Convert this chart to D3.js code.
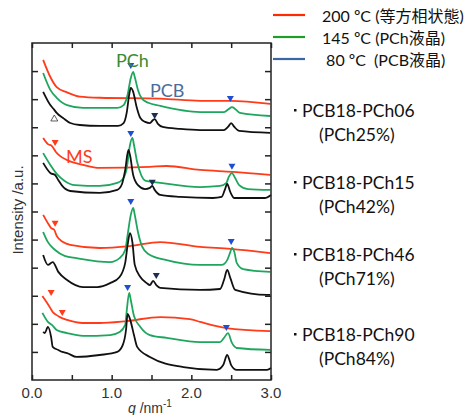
<!DOCTYPE html>
<html>
<head>
<meta charset="utf-8">
<script src="https://cdn.jsdelivr.net/npm/d3@7"></script>
<style>
  body { margin: 0; background: #fff; }
</style>
</head>
<body>
<script>
// tick values
const qTicks = [0, 0.5, 1, 1.5, 2, 2.5, 3];
const qLabels = [0, 1, 2, 3];
const intensityTicks = [10, 20, 30, 40, 50, 60, 70, 80, 90, 100, 110];

// legend entries
const legendNames = ["200 ºC (等方相状態)", "145 ºC (PCh液晶)", " 80 ºC  (PCB液晶)"];

// sample names (right side)
const sampleNames = ["PCB18-PCh06", "PCB18-PCh15", "PCB18-PCh46", "PCB18-PCh90"];
const sampleRatios = ["(PCh25%)", "(PCh42%)", "(PCh71%)", "(PCh84%)"];

// curves: [q (nm^-1), intensity (a.u., offset)]
const pch06_200 = [[0.14,114.0],[0.23,107.9],[0.31,104.3],[0.44,102.4],[0.60,100.9],[0.85,100.5],[1.61,100.2],[2.11,99.4],[2.49,99.4],[2.99,98.3]];
const pch06_145 = [[0.14,109.3],[0.23,103.3],[0.31,100.5],[0.44,97.9],[0.64,96.9],[1.07,96.9],[1.15,97.9],[1.20,101.6],[1.24,107.5],[1.27,109.7],[1.29,107.9],[1.33,103.3],[1.38,100.2],[1.46,98.7],[1.61,97.6],[2.11,95.4],[2.41,95.4],[2.47,96.5],[2.51,97.2],[2.55,96.5],[2.61,95.1],[2.99,94.0]];
const pch06_80 = [[0.14,102.6],[0.23,97.9],[0.28,96.2],[0.31,95.1],[0.39,93.3],[0.48,91.5],[0.60,90.8],[0.85,90.5],[1.08,90.5],[1.15,91.5],[1.19,95.4],[1.22,101.6],[1.24,104.0],[1.27,102.6],[1.31,97.6],[1.36,93.3],[1.42,91.9],[1.48,91.5],[1.52,92.6],[1.54,92.9],[1.58,91.2],[1.64,90.1],[1.86,89.4],[2.11,89.0],[2.41,89.0],[2.46,90.1],[2.50,91.5],[2.54,90.1],[2.60,88.7],[2.99,88.0]];

const pch15_200 = [[0.14,86.2],[0.20,84.0],[0.25,83.3],[0.30,81.2],[0.35,79.8],[0.44,78.3],[0.64,76.6],[0.85,75.5],[1.48,75.9],[1.69,76.2],[2.11,74.8],[2.52,74.1],[2.99,73.0]];
const pch15_145 = [[0.14,80.8],[0.23,76.6],[0.31,73.4],[0.41,70.9],[0.54,69.4],[0.85,69.1],[1.07,70.2],[1.14,71.6],[1.19,75.5],[1.23,83.7],[1.26,86.2],[1.28,83.7],[1.32,77.6],[1.37,73.0],[1.43,70.9],[1.61,70.2],[2.11,68.7],[2.36,69.1],[2.44,70.2],[2.47,72.3],[2.51,73.7],[2.55,71.9],[2.60,69.4],[2.71,68.0],[2.99,67.7]];
const pch15_80 = [[0.14,77.3],[0.23,73.7],[0.29,73.0],[0.33,71.2],[0.38,69.1],[0.48,67.3],[0.85,66.6],[1.07,67.7],[1.13,69.8],[1.17,74.8],[1.21,81.9],[1.23,80.1],[1.27,73.0],[1.33,69.4],[1.42,68.0],[1.48,68.4],[1.51,69.1],[1.54,67.7],[1.61,65.9],[1.86,65.2],[2.27,64.8],[2.38,65.2],[2.42,67.7],[2.45,69.8],[2.49,66.9],[2.54,64.8],[2.92,64.8],[3.0,65.9]];

const pch46_200 = [[0.14,58.8],[0.19,56.3],[0.24,54.1],[0.28,53.4],[0.31,51.3],[0.39,49.1],[0.48,48.1],[0.85,47.0],[1.23,47.7],[1.61,49.1],[2.11,47.4],[2.49,46.7],[2.99,45.2]];
const pch46_145 = [[0.14,52.7],[0.20,49.1],[0.29,46.3],[0.41,44.2],[0.56,43.4],[0.98,42.0],[1.10,43.4],[1.17,46.3],[1.20,51.6],[1.24,58.8],[1.27,61.3],[1.29,58.8],[1.33,52.7],[1.38,47.7],[1.46,44.9],[1.69,42.7],[2.11,41.0],[2.38,41.0],[2.45,42.7],[2.49,45.6],[2.51,47.0],[2.54,45.6],[2.57,41.7],[2.65,39.5],[2.99,38.5]];
const pch46_80 = [[0.14,44.5],[0.20,41.0],[0.26,42.0],[0.33,38.5],[0.44,35.6],[0.64,33.1],[0.82,33.1],[0.98,34.5],[1.10,36.7],[1.17,41.7],[1.20,48.1],[1.23,52.3],[1.26,49.1],[1.29,41.0],[1.36,36.7],[1.44,34.5],[1.48,33.8],[1.52,35.3],[1.56,33.8],[1.61,32.8],[2.11,32.1],[2.36,32.4],[2.41,35.6],[2.45,39.2],[2.49,36.3],[2.55,32.1],[2.95,30.3],[2.99,30.3]];

const pch90_200 = [[0.13,29.9],[0.19,27.4],[0.23,25.6],[0.26,24.2],[0.31,23.1],[0.35,22.4],[0.44,21.4],[0.64,20.3],[0.85,20.3],[1.19,21.0],[1.61,22.4],[1.98,21.7],[2.11,20.7],[2.44,18.5],[2.99,17.4]];
const pch90_145 = [[0.13,23.9],[0.20,20.7],[0.25,19.6],[0.31,17.8],[0.44,16.7],[0.64,15.7],[0.98,16.0],[1.10,17.1],[1.17,19.6],[1.19,24.9],[1.22,31.0],[1.24,28.5],[1.28,22.8],[1.36,18.9],[1.48,16.0],[1.69,15.0],[2.11,13.5],[2.36,13.5],[2.41,15.0],[2.46,16.7],[2.51,13.2],[2.57,11.4],[2.99,10.7]];
const pch90_80 = [[0.14,17.1],[0.16,16.7],[0.20,18.9],[0.24,15.3],[0.26,11.8],[0.33,10.7],[0.38,10.0],[0.44,9.6],[0.56,8.2],[0.85,8.9],[1.07,10.0],[1.14,12.5],[1.18,17.8],[1.20,23.5],[1.24,20.7],[1.28,16.0],[1.32,11.8],[1.48,8.2],[1.90,4.6],[2.32,3.6],[2.40,5.3],[2.45,8.9],[2.50,5.3],[2.57,3.6],[2.95,3.6],[3.0,4.3]];

// peak markers: [q, intensity, kind]
const markers = [
  [0.28,93.3,"open"],[1.24,111.8,"blue"],[1.54,94.0,"navy"],[2.49,100.1,"blue"],
  [0.29,84.4,"red"],[1.24,87.6,"blue"],[1.51,70.2,"navy"],[2.51,75.9,"blue"],
  [0.29,55.6,"red"],[1.24,63.4,"blue"],[1.56,37.0,"navy"],[2.50,49.1,"blue"],
  [0.24,31.0,"red"],[0.38,23.9,"red"],[1.20,32.8,"blue"],[2.44,18.5,"blue"]
];

const red = "#ff3b1a", green = "#1fa65e", black = "#111111";
const curves = [
  {data: pch06_200, color: red}, {data: pch06_145, color: green}, {data: pch06_80, color: black},
  {data: pch15_200, color: red}, {data: pch15_145, color: green}, {data: pch15_80, color: black},
  {data: pch46_200, color: red}, {data: pch46_145, color: green}, {data: pch46_80, color: black},
  {data: pch90_200, color: red}, {data: pch90_145, color: green}, {data: pch90_80, color: black}
];

const svg = d3.select("body").append("svg")
  .attr("width", 467)
  .attr("height", 415);

// scales
const x = d3.scaleLinear().domain([0, 3]).range([32, 271]);
const y = d3.scaleLinear().domain([0, 120]).range([380, 43]);

// curves
const line = d3.line()
  .x(d => x(d[0]))
  .y(d => y(d[1]))
  .curve(d3.curveMonotoneX);

svg.selectAll("path.curve")
  .data(curves)
  .enter()
  .append("path")
  .attr("class", "curve")
  .attr("d", d => line(d.data))
  .attr("fill", "none")
  .attr("stroke", d => d.color)
  .attr("stroke-width", 1.8)
  .attr("stroke-linejoin", "round");

// frame + inward ticks
const axisColor = "#222";
svg.append("rect")
  .attr("x", 32).attr("y", 43)
  .attr("width", 239).attr("height", 337)
  .attr("fill", "none")
  .attr("stroke", axisColor)
  .attr("stroke-width", 1.5);

const axisBottomG = svg.append("g").attr("transform", "translate(0,380)")
  .call(d3.axisBottom(x).tickValues(qTicks).tickSizeInner(-5).tickSizeOuter(0).tickFormat(""));
const axisTopG = svg.append("g").attr("transform", "translate(0,43)")
  .call(d3.axisTop(x).tickValues(qTicks).tickSizeInner(-5).tickSizeOuter(0).tickFormat(""));
const axisLeftG = svg.append("g").attr("transform", "translate(32,0)")
  .call(d3.axisLeft(y).tickValues(intensityTicks).tickSizeInner(-6).tickSizeOuter(0).tickFormat(""));
const axisRightG = svg.append("g").attr("transform", "translate(271,0)")
  .call(d3.axisRight(y).tickValues(intensityTicks).tickSizeInner(-6).tickSizeOuter(0).tickFormat(""));
[axisBottomG, axisTopG, axisLeftG, axisRightG].forEach(g => {
  g.select(".domain").remove();
  g.selectAll("line").attr("stroke", axisColor).attr("stroke-width", 1.5);
});

// x tick labels
svg.selectAll("text.qlab")
  .data(qLabels)
  .enter()
  .append("text")
  .attr("class", "qlab")
  .attr("x", d => x(d))
  .attr("y", 398)
  .attr("text-anchor", "middle")
  .attr("font-family", "Liberation Sans, Arial, sans-serif")
  .attr("font-size", 15)
  .attr("fill", "#333")
  .text(d => d.toFixed(1));

// axis titles
const xTitle = svg.append("text")
  .attr("x", 128).attr("y", 413)
  .attr("font-family", "Liberation Sans, Arial, sans-serif")
  .attr("font-size", 14)
  .attr("fill", "#333");
xTitle.append("tspan").attr("font-style", "italic").text("q");
xTitle.append("tspan").text(" /nm");
xTitle.append("tspan").attr("dy", -6).attr("font-size", 10).text("-1");

svg.append("text")
  .attr("transform", "translate(23,210) rotate(-90)")
  .attr("text-anchor", "middle")
  .attr("font-family", "Liberation Sans, Arial, sans-serif")
  .attr("font-size", 15)
  .attr("fill", "#333")
  .text("Intensity /a.u.");

// peak markers (downward triangles)
const markColor = {blue: "#1f4fd0", navy: "#1c2c55", red: "#ff3b1a", open: "none"};
svg.selectAll("path.mark")
  .data(markers)
  .enter()
  .append("path")
  .attr("class", "mark")
  .attr("d", "M-3.5,-3 L3.5,-3 L0,3 Z")
  .attr("transform", d => d[2] === "open"
    ? `translate(${x(d[0])},${y(d[1])}) rotate(180)`
    : `translate(${x(d[0])},${y(d[1])})`)
  .attr("fill", d => markColor[d[2]])
  .attr("stroke", d => d[2] === "open" ? "#333" : "none")
  .attr("stroke-width", 0.8);

// peak labels
const peakFont = "Lato, 'Noto Sans', sans-serif";
svg.append("text").attr("x", 116).attr("y", 67)
  .attr("font-family", peakFont).attr("font-size", 18)
  .attr("fill", "#3b8a33").text("PCh");
svg.append("text").attr("x", 150).attr("y", 97)
  .attr("font-family", peakFont).attr("font-size", 18)
  .attr("fill", "#4a6c9c").text("PCB");
svg.append("text").attr("x", 66).attr("y", 163)
  .attr("font-family", peakFont).attr("font-size", 18)
  .attr("fill", "#ff3b1a").text("MS");

// legend
const legendColors = ["#ff2a00", "#1e9e28", "#3a66a6"];
const legend = svg.selectAll("g.legend")
  .data(legendNames)
  .enter()
  .append("g")
  .attr("class", "legend")
  .attr("transform", (d, i) => `translate(0,${15 + 22 * i})`);
legend.append("line")
  .attr("x1", 273).attr("x2", 305)
  .attr("stroke", (d, i) => legendColors[i])
  .attr("stroke-width", 2.2);
legend.append("text")
  .attr("x", 322).attr("y", 7)
  .attr("font-family", "Lato, 'Noto Sans CJK JP', sans-serif")
  .attr("font-size", 16)
  .attr("fill", "#111")
  .style("white-space", "pre")
  .text(d => d);

// sample labels on the right
const sampleFont = "Lato, 'Noto Sans', sans-serif";
const firstLines = [117, 189, 261, 341];
firstLines.forEach((base, i) => {
  svg.append("rect").attr("x", 294).attr("y", base - 8)
    .attr("width", 2.5).attr("height", 2.5).attr("fill", "#111");
  svg.append("text").attr("x", 302).attr("y", base)
    .attr("font-family", sampleFont).attr("font-size", 17.5)
    .attr("fill", "#111").text(sampleNames[i]);
  svg.append("text").attr("x", 319).attr("y", base + 24)
    .attr("font-family", sampleFont).attr("font-size", 17.5)
    .attr("fill", "#111").text(sampleRatios[i]);
});
</script>
</body>
</html>
